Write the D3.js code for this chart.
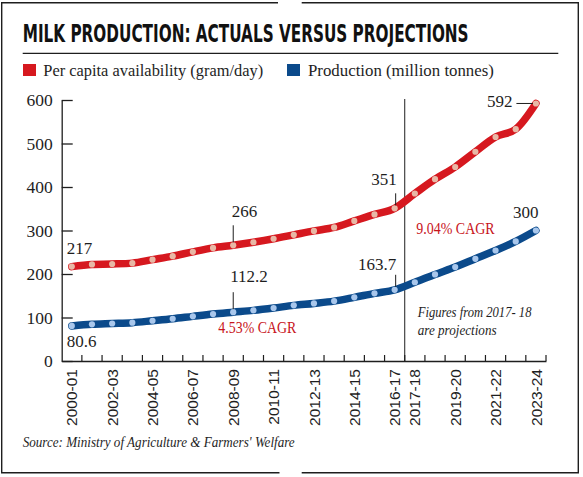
<!DOCTYPE html>
<html>
<head>
<meta charset="utf-8">
<script src="https://cdn.jsdelivr.net/npm/d3@7"></script>
<style>
  html, body { margin: 0; padding: 0; background: #fff; }
  svg { display: block; }
</style>
</head>
<body>
<svg id="chart" width="583" height="477"></svg>
<script>
// ---------- data ----------
const years = ["2000-01","2001-02","2002-03","2003-04","2004-05","2005-06","2006-07","2007-08",
  "2008-09","2009-10","2010-11","2011-12","2012-13","2013-14","2014-15","2015-16","2016-17",
  "2017-18","2018-19","2019-20","2020-21","2021-22","2022-23","2023-24"];
const perCapita = [217, 222, 223, 225, 233, 241, 251, 260, 266, 273, 281, 290, 299, 307, 322, 337, 351,
  385, 418, 446, 481, 515, 533, 592];
const production = [80.6, 84.4, 86.2, 88.1, 92.5, 97.1, 102.6, 107.9, 112.2, 116.4, 121.8, 127.9, 132.4,
  137.7, 146.3, 155.5, 163.7, 181, 199, 216, 235, 254, 275, 300];
const yTicks = [0, 100, 200, 300, 400, 500, 600];
const xTickLabels = ["2000-01","2002-03","2004-05","2006-07","2008-09","2010-11","2012-13","2014-15",
  "2016-17","2017-18","2019-20","2021-22","2023-24"];
const legendLabels = ["Per capita availability (gram/day)", "Production (million tonnes)"];
const titleText = "MILK PRODUCTION: ACTUALS VERSUS PROJECTIONS";
const sourceText = "Source: Ministry of Agriculture & Farmers' Welfare";
const noteLines = ["Figures from 2017- 18", "are projections"];
const cagrLabels = ["4.53% CAGR", "9.04% CAGR"];
const projectionStart = "2017-18";

// ---------- setup ----------
const RED = "#d6181f", BLUE = "#0b4a8b";
const RED_DOT = "#e8b8a6", BLUE_DOT = "#a9c7ec";
const INK = "#1e1e1e";
const SERIF = "'Liberation Serif', 'DejaVu Serif', serif";
const SANS = "'Liberation Sans', Arial, sans-serif";
const COND = "'DejaVu Sans Condensed', 'Liberation Sans Narrow', 'DejaVu Sans', sans-serif";

const svg = d3.select("#chart");

// text that is narrowed to a target width by shrinking the font and stretching it back vertically
function fitText(parent, txt, x0, y0, width, fontSize, opts) {
  opts = opts || {};
  const g = parent.append("g");
  const t = g.append("text").text(txt)
    .attr("font-family", opts.family || SERIF)
    .attr("font-size", fontSize)
    .attr("font-weight", opts.weight || "normal")
    .attr("font-style", opts.style || "normal")
    .attr("fill", opts.fill || INK)
    .attr("text-anchor", opts.anchor || "start");
  const L = t.node().getComputedTextLength();
  const fs = fontSize * width / L;
  t.attr("font-size", fs);
  g.attr("transform", `translate(${x0},${y0}) scale(1,${fontSize / fs})`);
  return g;
}

// frame with gaps top & bottom
svg.append("path")
  .attr("d", "M278,2.7 H1.7 V472.7 H279.5 M301.7,472.7 H578.3 V2.7 H301.7")
  .attr("fill", "none").attr("stroke", INK).attr("stroke-width", 1.4);

// title
fitText(svg, titleText, 22.7, 41.7, 446, 25, { family: COND, weight: "bold", fill: "#111" });
svg.append("line").attr("x1", 22.7).attr("x2", 558.3).attr("y1", 53.3).attr("y2", 53.3)
  .attr("stroke", INK).attr("stroke-width", 1.2);

// legend
const legendCfg = [
  { label: legendLabels[0], color: RED, rx: 23, tx: 43.3, tw: 220 },
  { label: legendLabels[1], color: BLUE, rx: 287, tx: 308, tw: 186 }
];
legendCfg.forEach(d => {
  svg.append("rect").attr("x", d.rx).attr("y", 64).attr("width", 13).attr("height", 12).attr("fill", d.color);
  fitText(svg, d.label, d.tx, 75.5, d.tw, 17.5);
});

// scales
const x = d3.scaleBand().domain(years).range([61.7, 546]).padding(0);
const y = d3.scaleLinear().domain([0, 600]).range([361, 100]);
const cx = d => x(d) + x.bandwidth() / 2;

// y axis
const yAxis = svg.append("g").attr("transform", "translate(61.7,0)")
  .call(d3.axisLeft(y).tickValues(yTicks).tickSize(-11).tickSizeOuter(0).tickPadding(9));
yAxis.select(".domain").attr("stroke", INK).attr("stroke-width", 1.3);
yAxis.selectAll(".tick line").attr("stroke", INK).attr("stroke-width", 1.3);
yAxis.selectAll(".tick text").attr("font-family", SERIF).attr("font-size", 17.5)
  .attr("fill", INK);

// x axis (labels at band centres)
const xAxis = svg.append("g").attr("transform", "translate(0,361)")
  .call(d3.axisBottom(x).tickValues(xTickLabels).tickSize(0).tickSizeOuter(0).tickPadding(0));
xAxis.select(".domain").attr("stroke", INK).attr("stroke-width", 1.3);
xAxis.selectAll(".tick text")
  .attr("transform", "rotate(-90)").attr("x", -8).attr("y", 0).attr("dy", "0.36em")
  .style("text-anchor", "end")
  .attr("font-family", SANS).attr("font-size", 15.5).attr("fill", INK);
// tick marks at band boundaries
svg.append("g").selectAll("line").data(years)
  .join("line")
  .attr("x1", d => x(d) + x.bandwidth()).attr("x2", d => x(d) + x.bandwidth())
  .attr("y1", 361).attr("y2", 355)
  .attr("stroke", INK).attr("stroke-width", 1.2);

// divider for projections
svg.append("line")
  .attr("x1", x(projectionStart)).attr("x2", x(projectionStart))
  .attr("y1", 99).attr("y2", 361)
  .attr("stroke", INK).attr("stroke-width", 1);

// lines
const series = [
  { values: perCapita, color: RED, dot: RED_DOT },
  { values: production, color: BLUE, dot: BLUE_DOT }
];
const line = d3.line().x((d, i) => cx(years[i])).y(d => y(d)).curve(d3.curveMonotoneX);
series.forEach(s => {
  svg.append("path").datum(s.values).attr("d", line)
    .attr("fill", "none").attr("stroke", s.color).attr("stroke-width", 7.5)
    .attr("stroke-linejoin", "round").attr("stroke-linecap", "round");
  svg.append("g").selectAll("circle").data(s.values).join("circle")
    .attr("cx", (d, i) => cx(years[i])).attr("cy", d => y(d)).attr("r", 3.1)
    .attr("fill", s.dot);
});

// annotations
function label(txt, xx, yy, anchor) {
  return svg.append("text").text(txt).attr("x", xx).attr("y", yy)
    .attr("text-anchor", anchor || "start")
    .attr("font-family", SERIF).attr("font-size", 17).attr("fill", INK);
}
function vLeader(xx, y1, y2) {
  svg.append("line").attr("x1", xx).attr("x2", xx).attr("y1", y1).attr("y2", y2)
    .attr("stroke", INK).attr("stroke-width", 1);
}
const iA = years.indexOf("2000-01"), iB = years.indexOf("2008-09"),
      iC = years.indexOf("2016-17"), iD = years.indexOf("2023-24");

// 2000-01
label(perCapita[iA], cx(years[iA]) - 5, y(perCapita[iA]) - 12.6);
label(production[iA], cx(years[iA]) - 5, y(production[iA]) + 21);
// 2008-09
label(perCapita[iB], cx(years[iB]) - 1.5, y(perCapita[iB]) - 28);
vLeader(cx(years[iB]), y(perCapita[iB]) - 20, y(perCapita[iB]) - 3);
label(production[iB].toFixed(1), cx(years[iB]) - 3, y(production[iB]) - 30.5);
vLeader(cx(years[iB]), y(production[iB]) - 20, y(production[iB]) - 3);
// 2016-17
label(perCapita[iC], cx(years[iC]) + 2, y(perCapita[iC]) - 23, "end");
vLeader(cx(years[iC]) + 1, y(perCapita[iC]) - 15, y(perCapita[iC]) - 3);
label(production[iC].toFixed(1), cx(years[iC]) + 1.5, y(production[iC]) - 19.8, "end");
vLeader(cx(years[iC]) + 1, y(production[iC]) - 15, y(production[iC]) - 3);
// 2023-24
label(perCapita[iD], cx(years[iD]) - 23.5, y(perCapita[iD]) + 3.8, "end");
svg.append("line").attr("x1", cx(years[iD]) - 19.5).attr("x2", cx(years[iD]) - 3)
  .attr("y1", y(perCapita[iD])).attr("y2", y(perCapita[iD])).attr("stroke", INK).attr("stroke-width", 1);
label(production[iD], cx(years[iD]) + 2.5, y(production[iD]) - 13, "end");

// CAGR labels
fitText(svg, cagrLabels[0], x("2008-09") - 4.8, y(64), 78, 17.5, { fill: "#c8141c" });
fitText(svg, cagrLabels[1], x(projectionStart) + 11.5, y(291.5), 78.5, 17.5, { fill: "#c8141c" });

// note
noteLines.forEach((t, i) => {
  fitText(svg, t, 417.7, 316.7 + i * 18.3, i === 0 ? 114 : 79, 15.5, { style: "italic" });
});

// source
fitText(svg, sourceText, 22.7, 446.7, 272, 15, { style: "italic" });
</script>
</body>
</html>
